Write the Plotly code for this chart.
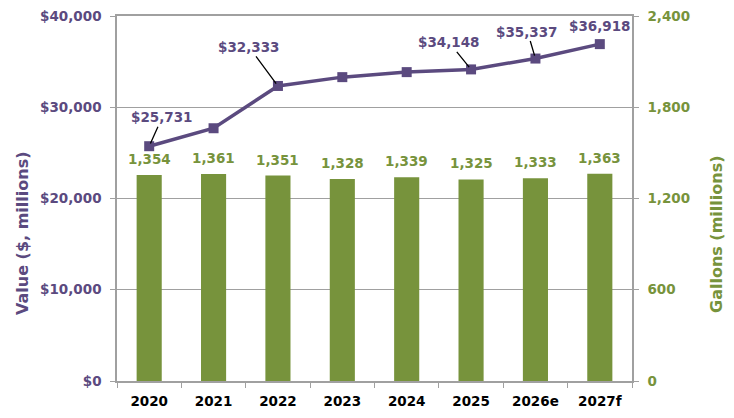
import plotly.graph_objects as go

years = ["2020", "2021", "2022", "2023", "2024", "2025", "2026e", "2027f"]
value_musd = [25731, 27700, 32333, 33300, 33850, 34148, 35337, 36918]
gallons_m = [1354, 1361, 1351, 1328, 1339, 1325, 1333, 1363]
value_labeled = {"2020": (13, -29), "2022": (-29, -39), "2025": (-22, -27), "2026e": (-8, -27)}

PURPLE = "#5b4a7f"
GREEN = "#77933c"
GRID = "#a0a0a0"
FONT = "DejaVu Sans"
FS = 13.5

# target plot area in pixels
L, R, T, B = 117, 632, 16, 381
W, H = 734, 418

fig = go.Figure()
fig.add_trace(go.Bar(x=years, y=gallons_m, marker_color=GREEN, marker_line_width=0,
                     width=0.39, yaxis="y", showlegend=False))
fig.add_trace(go.Scatter(x=years, y=value_musd, mode="lines+markers", yaxis="y2",
                         line=dict(color=PURPLE, width=3.5),
                         marker=dict(symbol="square", size=10, color=PURPLE),
                         showlegend=False))

ann = []
# category axis: annotation x given as category serial index
for i, g in enumerate(gallons_m):
    ann.append(dict(x=i, y=g, xref="x", yref="y", text=f"{g:,}", showarrow=False,
                    yanchor="bottom", yshift=6,
                    font=dict(family=FONT, size=FS, color=GREEN, weight="bold")))
for i, (yr, v) in enumerate(zip(years, value_musd)):
    if yr in value_labeled:
        ax, ay = value_labeled[yr]
        ann.append(dict(x=i, y=v, xref="x", yref="y2", text=f"${v:,}", showarrow=True,
                        arrowhead=0, arrowwidth=1.3, arrowcolor="black", ax=ax, ay=ay,
                        standoff=3,
                        font=dict(family=FONT, size=FS, color=PURPLE, weight="bold")))
    elif i == len(years) - 1:
        ann.append(dict(x=i, y=v, xref="x", yref="y2", text=f"${v:,}", showarrow=False,
                        yanchor="bottom", yshift=8,
                        font=dict(family=FONT, size=FS, color=PURPLE, weight="bold")))

# axis titles (placed off-centre as in the reference)
ann.append(dict(x=0, xshift=22 - L, y=(B - 233) / (B - T), xref="paper", yref="paper",
                text="Value ($, millions)", textangle=-90, showarrow=False,
                xanchor="center", yanchor="middle",
                font=dict(family=FONT, size=16, color=PURPLE, weight="bold")))
ann.append(dict(x=1, xshift=716 - R, y=(B - 234) / (B - T), xref="paper", yref="paper",
                text="Gallons (millions)", textangle=-90, showarrow=False,
                xanchor="center", yanchor="middle",
                font=dict(family=FONT, size=16, color=GREEN, weight="bold")))

fig.update_layout(
    width=W, height=H,
    margin=dict(l=L, r=W - R, t=T, b=H - B, autoexpand=False),
    paper_bgcolor="white", plot_bgcolor="white",
    font=dict(family=FONT, size=FS),
    xaxis=dict(type="category", range=[-0.5, 7.5], showline=True, mirror=True,
               linecolor=GRID, linewidth=1.5,
               ticks="outside", tickson="boundaries", tickcolor=GRID, ticklen=5,
               tickfont=dict(family=FONT, size=FS, color="black", weight="bold"),
               showgrid=False, tickangle=0, automargin=False, ticklabelstandoff=7),
    yaxis=dict(side="right", range=[0, 2400], dtick=600, tickformat=",",
               showline=True, linecolor=GRID, linewidth=1.5,
               ticks="outside", tickcolor=GRID, ticklen=5,
               showgrid=True, gridcolor=GRID, gridwidth=1.3, zeroline=False,
               automargin=False, ticklabelstandoff=6,
               tickfont=dict(family=FONT, size=FS, color=GREEN, weight="bold")),
    yaxis2=dict(side="left", overlaying="y", range=[0, 40000], dtick=10000,
                tickprefix="$", tickformat=",",
                showline=True, linecolor=GRID, linewidth=1.5,
                ticks="outside", tickcolor=GRID, ticklen=5,
                showgrid=False, zeroline=False,
                automargin=False, ticklabelstandoff=6,
                tickfont=dict(family=FONT, size=FS, color=PURPLE, weight="bold")),
    annotations=ann,
)

fig.write_html("out.html", config={"displayModeBar": False},
               post_script="document.body.style.margin='0';")
